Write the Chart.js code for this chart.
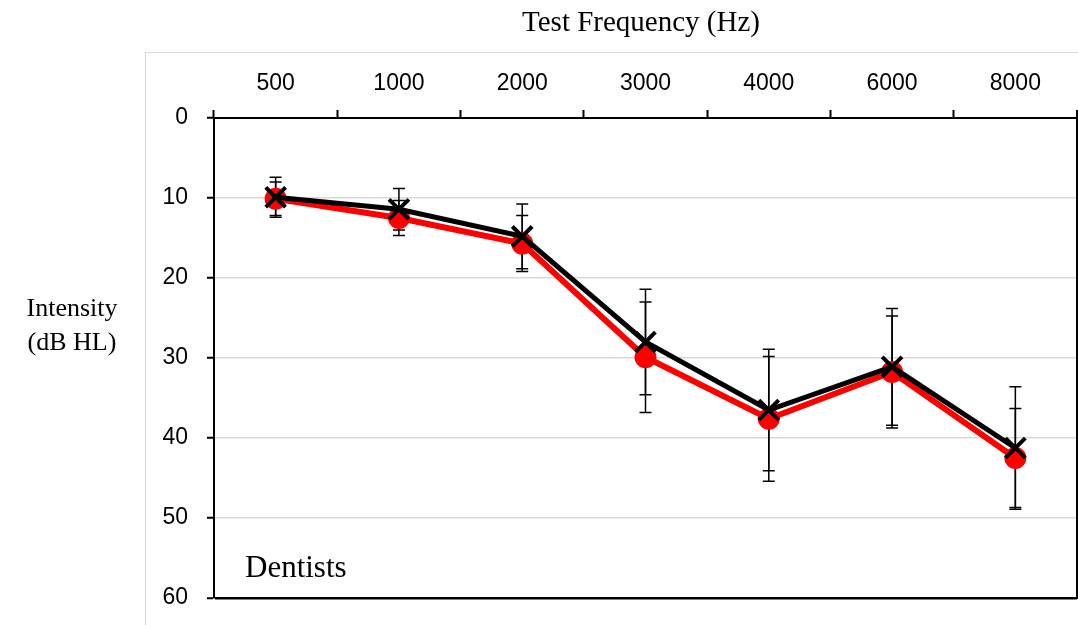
<!DOCTYPE html>
<html>
<head>
<meta charset="utf-8">
<script src="https://cdn.jsdelivr.net/npm/chart.js@4"></script>
<style>
  body { margin: 0; background: #fff; }
  #wrap { position: relative; width: 1078px; height: 625px; overflow: hidden; }
  #frame { position: absolute; left: 145px; top: 52px; width: 1000px; height: 700px;
           border-left: 1px solid #d9d9d9; border-top: 1px solid #d9d9d9; }
  canvas { position: absolute; left: 0; top: 0; }
  .lbl { position: absolute; font-family: "Liberation Serif", "Times New Roman", serif; color: #000; white-space: nowrap; }
</style>
</head>
<body>
<div id="wrap">
  <div id="frame"></div>
  <canvas id="audiogram" width="1078" height="625"></canvas>
  <div class="lbl" style="left:0;width:1282px;top:5px;text-align:center;font-size:29px;line-height:32px;">Test Frequency (Hz)</div>
  <div class="lbl" style="left:0;width:144px;top:291px;text-align:center;font-size:26px;line-height:34px;">Intensity<br>(dB HL)</div>
  <div class="lbl" style="left:245px;top:549px;font-size:31px;line-height:36px;">Dentists</div>
</div>
<script>
// 주파수 (x축)
const frequencies = ['500', '1000', '2000', '3000', '4000', '6000', '8000'];
// 빨간 원 시리즈 (평균, 표준편차)
const redMean = [10.1, 12.5, 15.7, 29.9, 37.6, 31.75, 42.5];
const redSD = [2.1, 2.2, 3.5, 6.9, 7.8, 7.0, 6.2];
// 검은 X 시리즈
const blackMean = [9.9, 11.4, 14.8, 28.0, 36.5, 31.1, 41.25];
const blackSD = [2.5, 2.6, 4.05, 6.6, 7.6, 7.3, 7.65];
// y축 눈금
const yTicks = [0, 10, 20, 30, 40, 50, 60];

// 축 여백 제거 (차트 영역 고정)
function noPad(s) {
  s.paddingLeft = 0; s.paddingRight = 0; s.paddingTop = 0; s.paddingBottom = 0;
}

// 오차 막대 + 오른쪽 테두리
const errorBars = {
  id: 'errorBars',
  beforeDatasetsDraw(chart) {
    const ctx = chart.ctx;
    const x = chart.scales.x, y = chart.scales.y;
    ctx.save();
    ctx.strokeStyle = '#000';
    ctx.lineWidth = 1.5;
    [[redMean, redSD], [blackMean, blackSD]].forEach(([m, sd]) => {
      m.forEach((v, i) => {
        const px = x.getPixelForValue(i);
        const top = y.getPixelForValue(v - sd[i]);
        const bot = y.getPixelForValue(v + sd[i]);
        ctx.beginPath();
        ctx.moveTo(px, top); ctx.lineTo(px, bot);
        ctx.moveTo(px - 6, top); ctx.lineTo(px + 6, top);
        ctx.moveTo(px - 6, bot); ctx.lineTo(px + 6, bot);
        ctx.stroke();
      });
    });
    ctx.restore();
  },
  afterDraw(chart) {
    const ctx = chart.ctx, a = chart.chartArea;
    ctx.save();
    ctx.strokeStyle = '#000';
    ctx.lineWidth = 2;
    ctx.beginPath();
    ctx.moveTo(a.right, a.top - 8);
    ctx.lineTo(a.right, a.bottom + 1);
    ctx.stroke();
    ctx.restore();
  }
};

const ctx = document.getElementById('audiogram').getContext('2d');
new Chart(ctx, {
  type: 'line',
  data: {
    labels: frequencies,
    datasets: [
      {
        label: 'red',
        data: redMean,
        borderColor: '#ff0000',
        backgroundColor: '#ff0000',
        borderWidth: 6,
        pointStyle: 'circle',
        pointRadius: 11,
        pointBorderWidth: 0,
        tension: 0,
        order: 1
      },
      {
        label: 'black',
        data: blackMean,
        borderColor: '#000',
        backgroundColor: '#000',
        borderWidth: 5,
        pointStyle: 'crossRot',
        pointRadius: 14,
        pointBorderWidth: 4,
        tension: 0,
        order: 0
      }
    ]
  },
  options: {
    responsive: false,
    animation: false,
    layout: { autoPadding: false, padding: { left: 140, top: 58, right: 1, bottom: 27 } },
    plugins: { legend: { display: false }, tooltip: { enabled: false } },
    scales: {
      x: {
        position: 'top',
        offset: true,
        afterFit: s => { s.height = 60; noPad(s); },
        grid: { offset: true, drawOnChartArea: false, drawTicks: true, tickLength: 8, tickColor: '#000', tickWidth: 2 },
        border: { color: '#000', width: 2 },
        ticks: { color: '#000', padding: 13, font: { family: 'Liberation Sans', size: 23 } }
      },
      y: {
        reverse: true,
        min: yTicks[0],
        max: yTicks[yTicks.length - 1],
        afterFit: s => { s.width = 74; noPad(s); },
        afterBuildTicks: s => { s.ticks = yTicks.map(v => ({ value: v })); },
        grid: {
          color: c => (c.tick.value === 60 ? '#000' : '#d9d9d9'),
          lineWidth: c => (c.tick.value === 60 ? 2.5 : 1.5),
          tickColor: '#000', tickWidth: 2, tickLength: 7
        },
        border: { color: '#000', width: 2 },
        ticks: { color: '#000', padding: 19, font: { family: 'Liberation Sans', size: 23 } }
      }
    }
  },
  plugins: [errorBars]
});
</script>
</body>
</html>
